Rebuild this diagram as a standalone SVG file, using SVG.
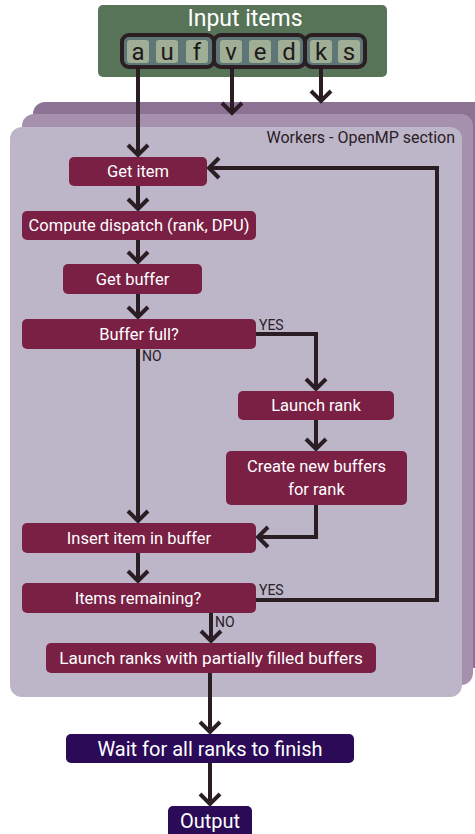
<svg xmlns="http://www.w3.org/2000/svg" width="475" height="834" viewBox="0 0 475 834">
<defs>
<style>
.node{fill:#7a2045}
.dark{fill:#2b0a57}
.t{font-family:Roboto,"Open Sans",sans-serif;font-size:16.5px;fill:#ffffff;text-anchor:middle}
.lab{font-family:Roboto,"Open Sans",sans-serif;font-size:14px;fill:#2a2026}
.cell{fill:#9fae94}
.grp{fill:#5e7675;stroke:#2b1f24;stroke-width:4}
.let{font-family:Roboto,"Open Sans",sans-serif;font-size:24px;fill:#1e1a1c;text-anchor:middle}
.c{fill:none;stroke:#2a1e24;stroke-width:4;marker-end:url(#ah)}
</style>
<marker id="ah" markerUnits="userSpaceOnUse" markerWidth="30" markerHeight="30" viewBox="-15 -15 30 30" refX="0" refY="0" orient="auto">
<path d="M-10,-10 L0,0 L-10,10" fill="none" stroke="#2a1e24" stroke-width="4"/>
</marker>
</defs>

<g id="workers">
<rect x="33" y="102" width="470" height="566" rx="12" fill="#8c7394"/>
<rect x="22" y="114" width="451" height="571" rx="12" fill="#a591ad"/>
<rect x="10" y="127" width="452" height="570" rx="12" fill="#bdb5c8"/>
<text x="455" y="143" class="lab" style="font-size:16px;text-anchor:end">Workers - OpenMP section</text>
</g>

<g id="input">
<rect x="98" y="5" width="289" height="72" rx="5" fill="#587458"/>
<text x="245" y="26" class="t" style="font-size:23px">Input items</text>
<rect class="grp" x="122" y="35" width="92" height="32" rx="7"/>
<rect class="grp" x="214" y="35" width="91" height="32" rx="7"/>
<rect class="grp" x="305" y="35" width="60" height="32" rx="7"/>
<rect class="cell" x="127" y="40" width="22" height="23" rx="3"/>
<rect class="cell" x="156" y="40" width="22" height="23" rx="3"/>
<rect class="cell" x="186" y="40" width="22" height="23" rx="3"/>
<rect class="cell" x="220" y="40" width="22" height="23" rx="3"/>
<rect class="cell" x="249" y="40" width="22" height="23" rx="3"/>
<rect class="cell" x="278" y="40" width="22" height="23" rx="3"/>
<rect class="cell" x="310" y="40" width="22" height="23" rx="3"/>
<rect class="cell" x="338" y="40" width="22" height="23" rx="3"/>
<text class="let" x="138" y="60">a</text>
<text class="let" x="167" y="60">u</text>
<text class="let" x="197" y="60">f</text>
<text class="let" x="231" y="60">v</text>
<text class="let" x="260" y="60">e</text>
<text class="let" x="289" y="60">d</text>
<text class="let" x="321" y="60">k</text>
<text class="let" x="349" y="60">s</text>
</g>

<g id="connectors">
<path class="c" d="M138,67 V155"/>
<path class="c" d="M232,67 V113"/>
<path class="c" d="M321,67 V101"/>
<path class="c" d="M138,186 V209"/>
<path class="c" d="M138,240 V262"/>
<path class="c" d="M138,294 V317"/>
<path class="c" d="M138,349 V521"/>
<path class="c" d="M256,334 H316 V389"/>
<path class="c" d="M316,420 V449"/>
<path class="c" d="M316,505 V537 H258"/>
<path class="c" d="M138,553 V581"/>
<path class="c" d="M256,600 H437 V168 H209"/>
<path class="c" d="M211,613 V641"/>
<path class="c" d="M210,673 V732"/>
<path class="c" d="M210,763 V804"/>
<text class="lab" x="259" y="330">YES</text>
<text class="lab" x="142" y="361">NO</text>
<text class="lab" x="259" y="595">YES</text>
<text class="lab" x="215" y="627">NO</text>
</g>

<g id="get-item"><rect class="node" x="69" y="157" width="138" height="29" rx="5"/><text class="t" x="138" y="177">Get item</text></g>
<g id="compute-dispatch"><rect class="node" x="22" y="211" width="234" height="29" rx="5"/><text class="t" x="139" y="231">Compute dispatch (rank, DPU)</text></g>
<g id="get-buffer"><rect class="node" x="63" y="264" width="139" height="30" rx="5"/><text class="t" x="132.5" y="285">Get buffer</text></g>
<g id="buffer-full"><rect class="node" x="22" y="319" width="234" height="30" rx="5"/><text class="t" x="139" y="340">Buffer full?</text></g>
<g id="launch-rank"><rect class="node" x="238" y="391" width="156" height="29" rx="5"/><text class="t" x="316" y="411">Launch rank</text></g>
<g id="create-buffers"><rect class="node" x="226" y="451" width="181" height="54" rx="5"/><text class="t" x="316.5" y="472">Create new buffers</text><text class="t" x="316.5" y="495">for rank</text></g>
<g id="insert-item"><rect class="node" x="22" y="523" width="234" height="30" rx="5"/><text class="t" x="139" y="544">Insert item in buffer</text></g>
<g id="items-remaining"><rect class="node" x="22" y="583" width="234" height="30" rx="5"/><text class="t" x="138" y="604">Items remaining?</text></g>
<g id="launch-ranks"><rect class="node" x="46" y="643" width="330" height="30" rx="5"/><text class="t" x="211" y="664" style="font-size:17.2px">Launch ranks with partially filled buffers</text></g>
<g id="wait"><rect class="dark" x="66" y="734" width="288" height="29" rx="5"/><text class="t" x="210" y="756" style="font-size:20px">Wait for all ranks to finish</text></g>
<g id="output"><rect class="dark" x="168" y="806" width="84" height="32" rx="5"/><text class="t" x="210" y="828" style="font-size:20px">Output</text></g>
</svg>
